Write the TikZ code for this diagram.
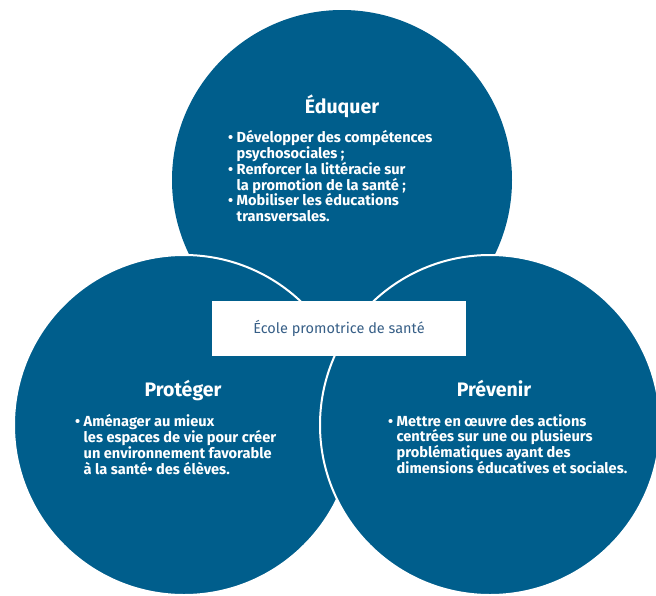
\documentclass[tikz,border=0pt]{standalone}
\usepackage{fontspec}
\setmainfont{Fira Sans}
\definecolor{edublue}{RGB}{0,94,140}
\definecolor{tagblue}{RGB}{55,95,135}
\newcommand\bul{\makebox[8.5pt][l]{•}}
\newcommand\hang{\hspace*{8.5pt}}
\begin{document}
\begin{tikzpicture}[x=1pt,y=-1pt,
  disc/.style={circle, fill=edublue, minimum size=340pt, inner sep=0pt},
  rim/.style={draw=white, line width=2pt},
  title/.style={text=white, font=\bfseries\fontsize{19.5}{24}\selectfont, anchor=base, inner sep=0pt},
  body/.style={text=white, font=\bfseries\fontsize{14.6}{15.9}\selectfont, align=left, anchor=north west, inner sep=0pt},
  tag/.style={fill=white, text=tagblue, font=\fontsize{14.5}{16}\selectfont, minimum width=254pt, minimum height=55pt, inner sep=0pt}
]
\useasboundingbox (0,0) rectangle (656,595);
\clip (0,0) rectangle (656,595);
\node[disc] (top) at (342,180) {};
\node[disc, rim] (left) at (184,425) {};
\node[disc, rim] (right) at (490,425) {};
\node[tag] (box) at (339,328.5) {École promotrice de santé};
\node[title] (t1) at (342,113) {Éduquer};
\node[body] (b1) at (228,130) {\bul Développer des compétences\\\hang psychosociales ;\\\bul Renforcer la littéracie sur\\\hang la promotion de la santé ;\\\bul Mobiliser les éducations\\\hang transversales.};
\node[title] (t2) at (183,396) {Protéger};
\node[body] (b2) at (75,414) {\bul Aménager au mieux\\\hang les espaces de vie pour créer\\\hang un environnement favorable\\\hang à la santé• des élèves.};
\node[title] (t3) at (494,396) {Prévenir};
\node[body] (b3) at (388,414) {\bul Mettre en œuvre des actions\\\hang centrées sur une ou plusieurs\\\hang problématiques ayant des\\\hang dimensions éducatives et sociales.};
\end{tikzpicture}
\end{document}
